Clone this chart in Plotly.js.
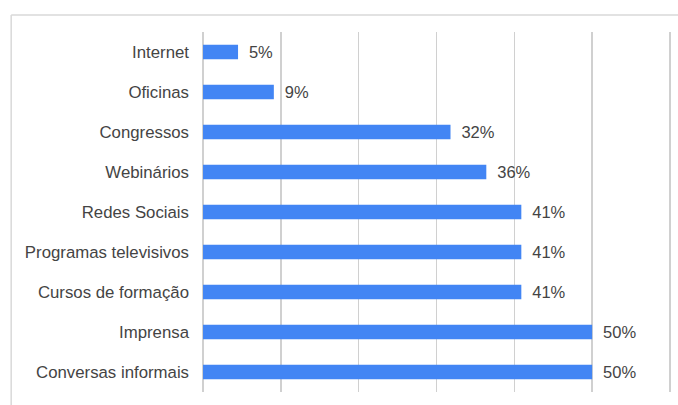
<!DOCTYPE html>
<html>
<head>
<meta charset="utf-8">
<script src="https://cdn.plot.ly/plotly-3.0.1.min.js"></script>
<style>html,body{margin:0;padding:0;background:#fff;}#chart{width:678px;height:405px;}</style>
</head>
<body>
<div id="chart"></div>
<script>
const categories = ["Internet", "Oficinas", "Congressos", "Webinários", "Redes Sociais", "Programas televisivos", "Cursos de formação", "Imprensa", "Conversas informais"];
const values = [4.5, 9.1, 31.8, 36.4, 40.9, 40.9, 40.9, 50, 50];
const labels = ["5%", "9%", "32%", "36%", "41%", "41%", "41%", "50%", "50%"];
const xTicks = [0, 10, 20, 30, 40, 50, 60];

const trace = {
  type: 'bar',
  orientation: 'h',
  y: categories,
  x: values,
  marker: {color: '#4285F4'},
  width: 0.36,
  text: labels.map(t => ' \u2009' + t),
  textposition: 'outside',
  constraintext: 'none',
  textfont: {family: 'Liberation Sans, Arial, sans-serif', size: 16.5, color: '#444'},
  cliponaxis: false,
  hoverinfo: 'none'
};

const layout = {
  width: 678, height: 405,
  margin: {l: 201, r: 6, t: 32, b: 13},
  paper_bgcolor: '#fff', plot_bgcolor: '#fff',
  font: {family: 'Liberation Sans, Arial, sans-serif', size: 16.5, color: '#444'},
  showlegend: false,
  xaxis: {
    range: [-0.26, 60.26], tickvals: xTicks, showticklabels: false,
    showgrid: true, gridcolor: '#d0d0d0', gridwidth: 1.5,
    zeroline: false, showline: false, fixedrange: true
  },
  yaxis: {
    autorange: 'reversed', showgrid: false, zeroline: false, showline: false,
    ticks: '', ticklabelstandoff: 11, tickfont: {size: 16.8, color: '#444'}
  },
  shapes: [
    {type: 'line', xref: 'paper', yref: 'paper', x0: -0.403, x1: 1.1, y0: 1.047, y1: 1.047, line: {color: '#d9d9d9', width: 1.5}},
    {type: 'line', xref: 'paper', yref: 'paper', x0: -0.403, x1: -0.403, y0: 1.047, y1: -0.1, line: {color: '#d9d9d9', width: 1.5}}
  ]
};

Plotly.newPlot('chart', [trace], layout, {displayModeBar: false, staticPlot: true});
</script>
</body>
</html>
